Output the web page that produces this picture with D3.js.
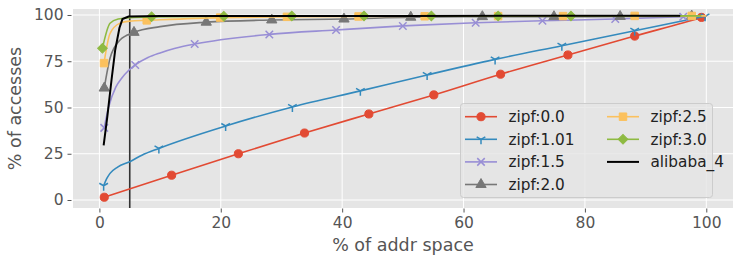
<!DOCTYPE html>
<html><head><meta charset="utf-8">
<script src="https://cdn.jsdelivr.net/npm/d3@7"></script>
<style>body{margin:0;background:#fff} svg{display:block}</style>
</head><body><svg id="c" width="747" height="263"></svg>
<script>
// ---- data ----
const xTicks = [0, 20, 40, 60, 80, 100];
const yTicks = [0, 25, 50, 75, 100];
const seriesNames = ["zipf:0.0", "zipf:1.01", "zipf:1.5", "zipf:2.0", "zipf:2.5", "zipf:3.0", "alibaba_4"];
const cutoffX = 5;

const zipf00X = [0.8, 11.9, 22.9, 33.8, 44.4, 55.1, 66.1, 77.2, 88.2, 99.2, 100];
const zipf00Y = [1.5, 13.4, 25.0, 36.2, 46.5, 56.8, 68.0, 78.4, 88.6, 98.7, 99.5];
const zipf00M = [0, 1, 2, 3, 4, 5, 6, 7, 8, 9];

const zipf101X = [0.7, 1.2, 1.75, 3.0, 5.0, 7.0, 9.8, 20.8, 31.8, 43.0, 54.0, 65.2, 76.2, 88.2, 99.8];
const zipf101Y = [7.7, 11.5, 14.4, 17.8, 20.7, 24.2, 27.9, 40.0, 50.3, 59.0, 67.6, 76.0, 83.4, 91.5, 99.3];
const zipf101M = [0, 6, 7, 8, 9, 10, 11, 12, 13, 14];

const zipf15X = [0.8, 1.5, 2.7, 3.7, 4.8, 5.9, 8.0, 10.0, 12.5, 15.7, 28.0, 39.0, 50.0, 62.0, 73.0, 85.0, 96.2, 100];
const zipf15Y = [39.0, 50.0, 61.0, 66.0, 70.0, 73.0, 77.0, 79.5, 82.0, 84.3, 89.5, 91.9, 94.1, 95.8, 96.9, 97.8, 99.1, 99.5];
const zipf15M = [0, 5, 9, 10, 11, 12, 13, 14, 15, 16];

const zipf20X = [0.8, 1.75, 3.4, 5.7, 10.0, 17.6, 28.4, 40.3, 51.3, 63.1, 74.9, 85.8, 97.6, 100];
const zipf20Y = [60.5, 76.6, 86.5, 90.6, 93.7, 96.1, 97.3, 97.8, 98.8, 99.1, 99.1, 99.2, 99.4, 99.5];
const zipf20M = [0, 3, 5, 6, 7, 8, 9, 10, 11, 12];

const zipf25X = [0.76, 1.75, 3.4, 5.0, 7.8, 19.9, 30.9, 42.7, 53.6, 65.7, 76.4, 88.2, 97.6, 100];
const zipf25Y = [74.0, 90.0, 95.6, 96.7, 97.1, 98.6, 99.0, 99.2, 99.3, 99.4, 99.4, 99.5, 99.5, 99.5];
const zipf25M = [0, 4, 5, 6, 7, 8, 9, 10, 11, 12];

const zipf30X = [0.5, 1.75, 3.1, 5.0, 8.6, 20.5, 31.7, 43.6, 54.7, 65.7, 77.7, 88.6, 99.2];
const zipf30Y = [82.0, 95.5, 97.8, 98.5, 99.0, 99.3, 99.4, 99.5, 99.5, 99.5, 99.5, 99.5, 99.5];
const zipf30M = [0, 4, 5, 6, 7, 8, 9, 10];

const alibabaX = [0.7, 1.3, 2.0, 2.6, 3.3, 3.8, 4.8, 10.0, 50.0, 95.7];
const alibabaY = [29.5, 45.0, 65.0, 81.0, 93.0, 97.8, 99.2, 99.4, 99.5, 99.6];
const alibabaM = [];

// ---- styles ----
const colors = ["#E24A33", "#348ABD", "#988ED5", "#777777", "#FBC15E", "#8EBA42", "#000000"];
const markers = ["circle", "tri", "x", "triangle", "square", "diamond", "none"];
const series = [
  [zipf00X, zipf00Y, zipf00M], [zipf101X, zipf101Y, zipf101M], [zipf15X, zipf15Y, zipf15M],
  [zipf20X, zipf20Y, zipf20M], [zipf25X, zipf25Y, zipf25M], [zipf30X, zipf30Y, zipf30M],
  [alibabaX, alibabaY, alibabaM]
];

const svg = d3.select("#c");
const L = 73, R = 733, T = 9, B = 208;
const x = d3.scaleLinear().domain([-4.35, 104.4]).range([L, R]);
const y = d3.scaleLinear().domain([-4.32, 103.24]).range([B, T]);
const font = "DejaVu Sans, sans-serif";

svg.append("rect").attr("x", L).attr("y", T).attr("width", R - L).attr("height", B - T).attr("fill", "#E5E5E5");

// grid
const g = svg.append("g");
g.selectAll(".gx").data(xTicks).join("line")
  .attr("x1", d => x(d)).attr("x2", d => x(d)).attr("y1", T).attr("y2", B)
  .attr("stroke", "#fff").attr("stroke-width", 1);
g.selectAll(".gy").data(yTicks).join("line")
  .attr("y1", d => y(d)).attr("y2", d => y(d)).attr("x1", L).attr("x2", R)
  .attr("stroke", "#fff").attr("stroke-width", 1);

// axes
const xAxis = d3.axisBottom(x).tickValues(xTicks).tickSize(4).tickPadding(4);
const yAxis = d3.axisLeft(y).tickValues(yTicks).tickSize(4).tickPadding(4);
const ax = svg.append("g").attr("transform", `translate(0,${B + 0.5})`).call(xAxis);
const ay = svg.append("g").attr("transform", `translate(${L - 1.5},0)`).call(yAxis);
[ax, ay].forEach(a => {
  a.select(".domain").remove();
  a.selectAll(".tick line").attr("stroke", "#555").attr("stroke-width", 1);
  a.selectAll(".tick text").attr("fill", "#555").attr("font-family", font).attr("font-size", 15.5);
});

// cutoff line
svg.append("line").attr("x1", x(cutoffX)).attr("x2", x(cutoffX)).attr("y1", T).attr("y2", B)
  .attr("stroke", "#333").attr("stroke-width", 1.6);

function markerPath(type, s) {
  const r = s;
  if (type === "tri") {
    return `M0,0L0,${r}M0,0L${-0.866 * r},${-0.5 * r}M0,0L${0.866 * r},${-0.5 * r}`;
  }
  if (type === "x") {
    const a = r * 0.75;
    return `M${-a},${-a}L${a},${a}M${-a},${a}L${a},${-a}`;
  }
  if (type === "circle") return d3.symbol(d3.symbolCircle, 52)();
  if (type === "square") return d3.symbol(d3.symbolSquare, 56)();
  if (type === "triangle") return d3.symbol(d3.symbolTriangle, 46)();
  if (type === "diamond") return d3.symbol(d3.symbolSquare, 46)();
  return "";
}
function drawMarker(sel, type, color) {
  const p = sel.append("path").attr("d", markerPath(type, 5));
  if (type === "tri" || type === "x") p.attr("fill", "none").attr("stroke", color).attr("stroke-width", 1.5);
  else p.attr("fill", color).attr("stroke", color).attr("stroke-width", 1);
  if (type === "diamond") p.attr("transform", "rotate(45)");
  return p;
}

const plot = svg.append("g");
series.forEach(([xs, ys, ms], i) => {
  const pts = xs.map((v, k) => [v, ys[k]]);
  const line = d3.line().x(d => x(d[0])).y(d => y(d[1]))
    .curve(i === 6 ? d3.curveLinear : d3.curveMonotoneX);
  plot.append("path").attr("d", line(pts)).attr("fill", "none")
    .attr("stroke", colors[i]).attr("stroke-width", i === 6 ? 2 : 1.6);
  ms.forEach(k => {
    const gm = plot.append("g").attr("transform", `translate(${x(xs[k])},${y(ys[k])})`);
    drawMarker(gm, markers[i], colors[i]);
  });
});

// legend
const lg = svg.append("g");
lg.append("rect").attr("x", 460.5).attr("y", 103.5).attr("width", 252).attr("height", 94).attr("rx", 3)
  .attr("fill", "#E5E5E5").attr("fill-opacity", 0.8).attr("stroke", "#CCCCCC").attr("stroke-width", 1);
seriesNames.forEach((name, i) => {
  const col = i < 4 ? 0 : 1, row = i < 4 ? i : i - 4;
  const lx = col === 0 ? 465 : 607, ly = 116.7 + row * 22.6;
  const e = lg.append("g").attr("transform", `translate(${lx},${ly})`);
  e.append("line").attr("x1", 0).attr("x2", 32).attr("stroke", colors[i]).attr("stroke-width", i === 6 ? 2 : 1.6);
  if (markers[i] !== "none") drawMarker(e.append("g").attr("transform", "translate(16,0)"), markers[i], colors[i]);
  e.append("text").attr("x", 43.5).attr("y", 5.5).text(name)
    .attr("font-family", font).attr("font-size", 15.3).attr("fill", "#222");
});

// axis labels
svg.append("text").attr("x", (L + R) / 2).attr("y", 251).attr("text-anchor", "middle")
  .attr("font-family", font).attr("font-size", 17.5).attr("fill", "#555").text("% of addr space");
svg.append("text").attr("transform", `translate(21,${(T + B) / 2}) rotate(-90)`).attr("text-anchor", "middle")
  .attr("font-family", font).attr("font-size", 17.5).attr("fill", "#555").text("% of accesses");
</script></body></html>
